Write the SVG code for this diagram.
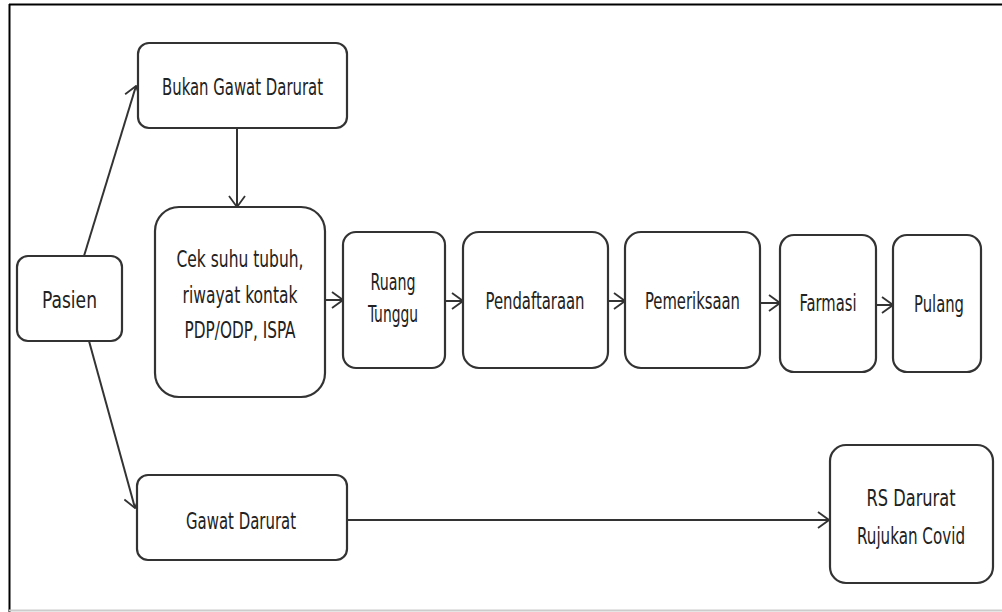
<svg xmlns="http://www.w3.org/2000/svg" width="1002" height="612" viewBox="0 0 1002 612">
<defs>
<style>
.box{fill:#fff;stroke:#333;stroke-width:2.2}
.t{font-family:"DejaVu Sans Condensed","DejaVu Sans","Liberation Sans",sans-serif;font-stretch:condensed;font-size:19px;fill:#222;text-anchor:middle}
.c{stroke:#333;stroke-width:2;fill:none}
</style>
<marker id="ah" viewBox="0 0 13 18" refX="12" refY="9" markerWidth="13" markerHeight="18" markerUnits="userSpaceOnUse" orient="auto">
<path d="M1,1 L12,9 L1,17" fill="none" stroke="#333" stroke-width="1.8"/>
</marker>
</defs>
<rect width="1002" height="612" fill="#fff"/>
<g id="frame">
<line x1="9" y1="4.5" x2="1002" y2="4.5" stroke="#000" stroke-width="2"/>
<line x1="9.5" y1="4" x2="9.5" y2="612" stroke="#000" stroke-width="2"/>
<line x1="9" y1="610.5" x2="1002" y2="610.5" stroke="#ccc" stroke-width="2"/>
</g>
<g id="connectors">
<line class="c" x1="84" y1="256" x2="136" y2="86" marker-end="url(#ah)"/>
<line class="c" x1="89" y1="341" x2="135" y2="508" marker-end="url(#ah)"/>
<line class="c" x1="237" y1="128" x2="237" y2="207" marker-end="url(#ah)"/>
<line class="c" x1="325" y1="300" x2="343" y2="300" marker-end="url(#ah)"/>
<line class="c" x1="445" y1="301" x2="463" y2="301" marker-end="url(#ah)"/>
<line class="c" x1="608" y1="301" x2="625" y2="301" marker-end="url(#ah)"/>
<line class="c" x1="760" y1="303" x2="780" y2="303" marker-end="url(#ah)"/>
<line class="c" x1="876" y1="305" x2="893" y2="305" marker-end="url(#ah)"/>
<line class="c" x1="347" y1="520" x2="829" y2="520" marker-end="url(#ah)"/>
</g>
<g id="pasien">
<rect class="box" x="17" y="256" width="105" height="85" rx="11"/>
<text class="t" transform="translate(69.5,308) scale(1,1.25)" textLength="55" lengthAdjust="spacingAndGlyphs" font-size="21">Pasien</text>
</g>
<g id="bukan-gawat-darurat">
<rect class="box" x="138" y="43" width="209" height="85" rx="11"/>
<text class="t" transform="translate(242.5,95) scale(1,1.25)" textLength="161" lengthAdjust="spacingAndGlyphs">Bukan Gawat Darurat</text>
</g>
<g id="cek-suhu">
<rect class="box" x="155" y="207" width="170" height="190" rx="24"/>
<text class="t" transform="translate(240,267) scale(1,1.25)" textLength="127" lengthAdjust="spacingAndGlyphs">Cek suhu tubuh,</text>
<text class="t" transform="translate(240,303) scale(1,1.25)" textLength="115" lengthAdjust="spacingAndGlyphs">riwayat kontak</text>
<text class="t" transform="translate(240,338) scale(1,1.25)" textLength="111" lengthAdjust="spacingAndGlyphs">PDP/ODP, ISPA</text>
</g>
<g id="ruang-tunggu">
<rect class="box" x="343" y="232" width="102" height="136" rx="13"/>
<text class="t" transform="translate(393,290) scale(1,1.25)" textLength="45" lengthAdjust="spacingAndGlyphs">Ruang</text>
<text class="t" transform="translate(393,322) scale(1,1.25)" textLength="50" lengthAdjust="spacingAndGlyphs">Tunggu</text>
</g>
<g id="pendaftaraan">
<rect class="box" x="463" y="232" width="145" height="136" rx="16"/>
<text class="t" transform="translate(535,309) scale(1,1.25)" textLength="99" lengthAdjust="spacingAndGlyphs">Pendaftaraan</text>
</g>
<g id="pemeriksaan">
<rect class="box" x="625" y="232" width="135" height="136" rx="16"/>
<text class="t" transform="translate(692.5,309) scale(1,1.25)" textLength="95" lengthAdjust="spacingAndGlyphs">Pemeriksaan</text>
</g>
<g id="farmasi">
<rect class="box" x="780" y="235" width="96" height="137" rx="14"/>
<text class="t" transform="translate(828,311) scale(1,1.25)" textLength="57" lengthAdjust="spacingAndGlyphs">Farmasi</text>
</g>
<g id="pulang">
<rect class="box" x="893" y="235" width="88" height="137" rx="14"/>
<text class="t" transform="translate(939,312) scale(1,1.25)" textLength="50" lengthAdjust="spacingAndGlyphs">Pulang</text>
</g>
<g id="gawat-darurat">
<rect class="box" x="137" y="475" width="210" height="85" rx="11"/>
<text class="t" transform="translate(241,529) scale(1,1.25)" textLength="110" lengthAdjust="spacingAndGlyphs">Gawat Darurat</text>
</g>
<g id="rs-darurat">
<rect class="box" x="830" y="445" width="163" height="138" rx="16"/>
<text class="t" transform="translate(911,506) scale(1,1.25)" textLength="89" lengthAdjust="spacingAndGlyphs">RS Darurat</text>
<text class="t" transform="translate(911,544) scale(1,1.25)" textLength="108" lengthAdjust="spacingAndGlyphs">Rujukan Covid</text>
</g>
</svg>
